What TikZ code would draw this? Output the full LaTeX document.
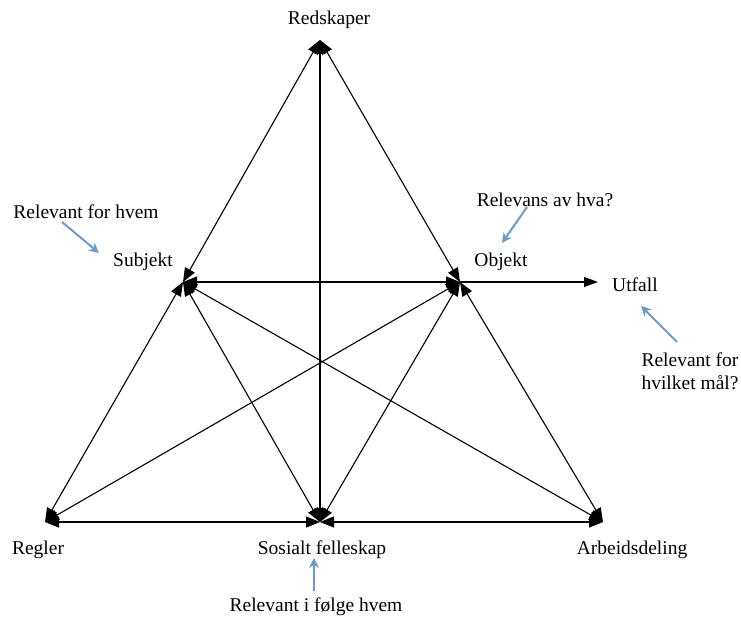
\documentclass[tikz,border=0pt]{standalone}
\usepackage{fontspec}
\setmainfont{Liberation Serif}
\usetikzlibrary{arrows.meta}
\definecolor{noteblue}{RGB}{105,155,205}
\begin{document}
\begin{tikzpicture}[x=1pt,y=-1pt,
  link/.style={line width=1.1pt,{Triangle[length=14pt,width=11pt]}-{Triangle[length=14pt,width=11pt]}},
  oneway/.style={line width=1.1pt,-{Triangle[length=14pt,width=10pt]}},
  note/.style={draw=noteblue,line width=2pt,-{Stealth[length=10pt,width=10pt]}},
  lbl/.style={font=\fontsize{19.5}{23}\selectfont,inner sep=0pt}]
\useasboundingbox (0,0) rectangle (741,623);

% corners of the activity system
\coordinate (R) at (320,40);
\coordinate (S) at (183,282);
\coordinate (O) at (460,282);
\coordinate (Reg) at (45,522);
\coordinate (Soc) at (320,522);
\coordinate (Arb) at (603,522);
\coordinate (U) at (598,282);

% links between all elements
\draw[link] (S) -- (R);
\draw[link] (O) -- (R);
\draw[link] (Soc) -- (R);
\draw[link] (S) -- (O);
\draw[link] (Reg) -- (S);
\draw[link] (Soc) -- (S);
\draw[link] (Arb) -- (S);
\draw[link] (Reg) -- (O);
\draw[link] (Soc) -- (O);
\draw[link] (Arb) -- (O);
\draw[link] (Reg) -- (Soc);
\draw[link] (Arb) -- (Soc);
\draw[oneway] (O) -- (U);

% element labels
\node[lbl] (tR) at (329,20) {Redskaper};
\node[lbl] (tS) at (143,262) {Subjekt};
\node[lbl] (tO) at (501,262) {Objekt};
\node[lbl,anchor=west] (tU) at (612,285) {Utfall};
\node[lbl] (tReg) at (38,550) {Regler};
\node[lbl] (tSoc) at (322,550) {Sosialt felleskap};
\node[lbl] (tArb) at (632,550) {Arbeidsdeling};

% questions
\node[lbl] (qS) at (86,212) {Relevant for hvem};
\node[lbl] (qO) at (545,200) {Relevans av hva?};
\node[lbl,align=center] (qU) at (690,371) {Relevant for\\hvilket mål?};
\node[lbl] (qSoc) at (316,607) {Relevant i følge hvem};

\coordinate (a1) at (62,222); \coordinate (b1) at (99,253);
\coordinate (a2) at (527,207); \coordinate (b2) at (502,243);
\coordinate (a3) at (677,342); \coordinate (b3) at (641,306);
\coordinate (a4) at (314,591); \coordinate (b4) at (314,558);
\draw[note] (a1) -- (b1);
\draw[note] (a2) -- (b2);
\draw[note] (a3) -- (b3);
\draw[note] (a4) -- (b4);
\end{tikzpicture}
\end{document}
